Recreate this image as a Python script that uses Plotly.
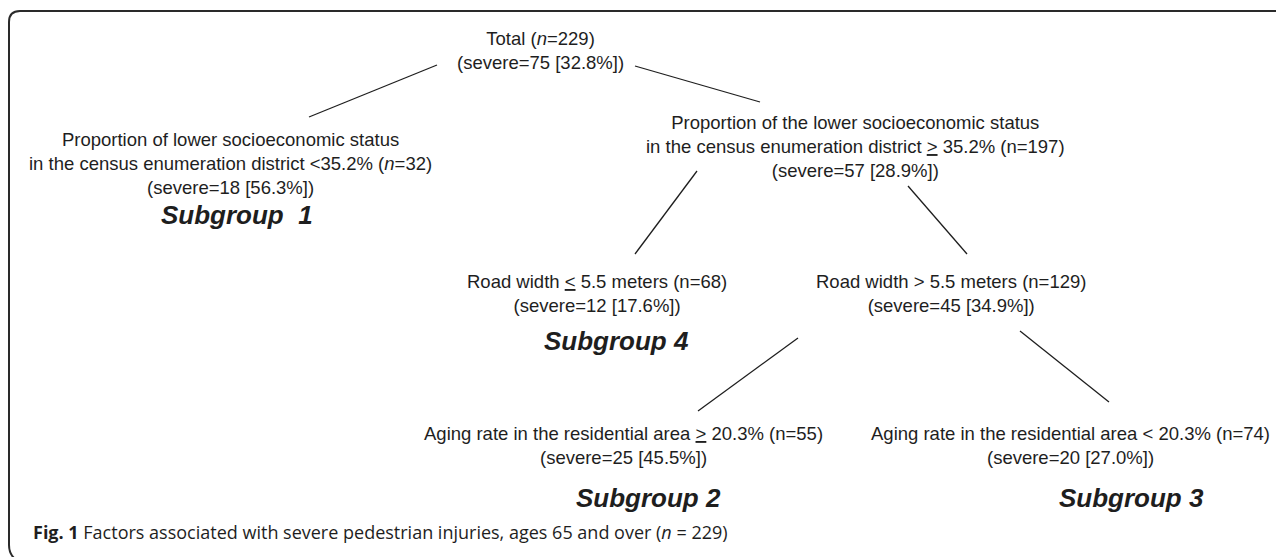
import plotly.graph_objects as go

# ---- data ----
node_titles = [
    "Total",
    "Proportion of lower socioeconomic status<br>in the census enumeration district &lt;35.2%",
    "Proportion of the lower socioeconomic status<br>in the census enumeration district <u>&gt;</u> 35.2%",
    "Road width <u>&lt;</u> 5.5 meters",
    "Road width &gt; 5.5 meters",
    "Aging rate in the residential area <u>&gt;</u> 20.3%",
    "Aging rate in the residential area &lt; 20.3%",
]
node_n = [229, 32, 197, 68, 129, 55, 74]
node_n_italic = [True, True, False, False, False, False, False]
node_severe = [75, 18, 57, 12, 45, 25, 20]
node_pct = [32.8, 56.3, 28.9, 17.6, 34.9, 45.5, 27.0]
subgroup_labels = ["Subgroup\u00a0\u00a01", "Subgroup 4", "Subgroup 2", "Subgroup 3"]
edges = [(0, 1), (0, 2), (2, 3), (2, 4), (4, 5), (4, 6)]
caption_bold = "Fig. 1"
caption_text = " Factors associated with severe pedestrian injuries, ages 65 and over (<i>n</i> = 229)"

# ---- layout (page pixel positions; the page body has an 8px margin) ----
W, H = 1284, 557
OFF = 8
node_pos = [(540, 50), (230, 163), (855, 146), (597, 293), (951, 293), (623, 445), (1070, 445)]
subgroup_pos = [(237, 215), (616, 341), (648, 498), (1131, 498)]
edge_pts = [
    ((437, 65), (309, 117)),
    ((635, 66), (760, 102)),
    ((697, 171), (635, 254)),
    ((908, 186), (967, 254)),
    ((798, 338), (698, 411)),
    ((1020, 331), (1109, 402)),
]

INK = "#1e1e1e"
NODE_FONT = dict(family="Liberation Sans, Arial, sans-serif", size=18.5, color=INK)
SUB_FONT = dict(family="Liberation Sans, Arial, sans-serif", size=26, color=INK)

fig = go.Figure()

for (p0, p1) in edge_pts:
    fig.add_trace(go.Scatter(x=[p0[0], p1[0]], y=[p0[1], p1[1]], mode="lines",
                             line=dict(color=INK, width=1.3),
                             showlegend=False, hoverinfo="skip"))

for i, title in enumerate(node_titles):
    nstr = "<i>n</i>" if node_n_italic[i] else "n"
    text = f"{title} ({nstr}={node_n[i]})<br>(severe={node_severe[i]} [{node_pct[i]:.1f}%])"
    x, y = node_pos[i]
    fig.add_annotation(x=x, y=y, text=text, showarrow=False, xref="x", yref="y",
                       xanchor="center", yanchor="middle", align="center", font=NODE_FONT)

for lbl, (x, y) in zip(subgroup_labels, subgroup_pos):
    fig.add_annotation(x=x, y=y, text=f"<b><i>{lbl}</i></b>", showarrow=False,
                       xanchor="center", yanchor="middle", font=SUB_FONT)

fig.add_annotation(x=31, y=532, text=f"<b>{caption_bold}</b>{caption_text}", showarrow=False,
                   xanchor="left", yanchor="middle",
                   font=dict(family="Open Sans, Noto Sans, sans-serif", size=18, color=INK))

fig.add_shape(type="path", xref="x", yref="y",
              path="M 1290 11 L 20 11 Q 9 11 9 22 L 9 545 Q 9 553 14 558",
              line=dict(color="#2a2a2a", width=2))

fig.update_layout(
    width=W - OFF, height=H - OFF, margin=dict(l=0, r=0, t=0, b=0),
    paper_bgcolor="white", plot_bgcolor="white",
    xaxis=dict(range=[OFF, W], visible=False, fixedrange=True),
    yaxis=dict(range=[H, OFF], visible=False, fixedrange=True),
    showlegend=False,
)

fig.write_html("out.html")
